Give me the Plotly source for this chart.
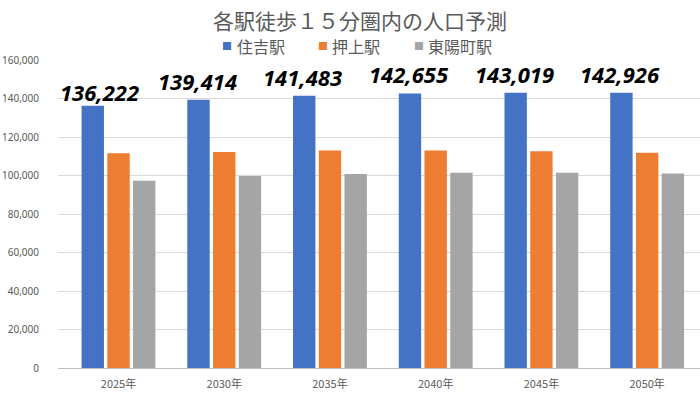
import plotly.graph_objects as go

categories = ["2025年", "2030年", "2035年", "2040年", "2045年", "2050年"]
series_names = ["住吉駅", "押上駅", "東陽町駅"]
sumiyoshi = [136222, 139414, 141483, 142655, 143019, 142926]
oshiage = [111500, 112200, 113050, 113050, 112550, 111800]
toyocho = [97250, 99700, 100750, 101400, 101400, 101100]
y_ticks = [0, 20000, 40000, 60000, 80000, 100000, 120000, 140000, 160000]

colors = ["#4472C4", "#ED7D31", "#A5A5A5"]
title_text = "各駅徒歩１５分圏内の人口予測"

CJK = "Noto Sans CJK JP"
GREY = "#595959"

W, H = 700, 394
ML, MR, MT, MB = 58, 0, 60, 26
PW, PH = W - ML - MR, H - MT - MB


def px_to_paper_x(px):
    return (px - ML) / PW


def px_to_paper_y(py):
    return (H - MB - py) / PH


fig = go.Figure()
for name, vals, col in zip(series_names, [sumiyoshi, oshiage, toyocho], colors):
    fig.add_trace(go.Bar(
        x=categories, y=vals, name=name,
        marker=dict(color=col, line=dict(width=0)),
        showlegend=False,
    ))

# data labels for 住吉駅 (bold italic, above the blue bars)
annotations = []
for i, (cat, v) in enumerate(zip(categories, sumiyoshi)):
    annotations.append(dict(
        x=cat, y=v, xref="x", yref="y",
        text=f"{v:,}", showarrow=False,
        xanchor="center", yanchor="bottom",
        xshift=-19 if i == 0 else -27, yshift=-3 if i == 0 else 2,
        font=dict(family="Noto Sans", size=22, color="#000000",
                  weight="bold", style="italic"),
    ))

# custom legend
legend_sq_x = [227, 323, 419]
legend_tx_x = [235, 330, 426]
legend_y = 45.5
for name, col, sx, tx in zip(series_names, colors, legend_sq_x, legend_tx_x):
    annotations.append(dict(
        x=px_to_paper_x(sx), y=px_to_paper_y(legend_y), xref="paper", yref="paper",
        text="■", showarrow=False, xanchor="center", yanchor="middle",
        font=dict(family=CJK, size=10, color=col),
    ))
    annotations.append(dict(
        x=px_to_paper_x(tx), y=px_to_paper_y(legend_y), xref="paper", yref="paper",
        text=name, showarrow=False, xanchor="left", yanchor="middle",
        font=dict(family=CJK, size=16, color=GREY),
    ))

fig.update_layout(
    width=W, height=H,
    paper_bgcolor="white", plot_bgcolor="white",
    margin=dict(l=ML, r=MR, t=MT, b=MB),
    barmode="group", bargap=0.27, bargroupgap=0.13,
    title=dict(text=title_text, x=360 / W, xref="container", xanchor="center",
               y=1 - 22 / H, yanchor="middle",
               font=dict(family=CJK, size=21, color=GREY)),
    showlegend=False,
    annotations=annotations,
    font=dict(family=CJK, color=GREY),
)
fig.update_xaxes(
    showgrid=False, showline=True, linecolor="#bfbfbf", linewidth=1,
    ticks="", ticklabelstandoff=6, automargin=False,
    tickfont=dict(family=CJK, size=11, color=GREY),
)
fig.update_yaxes(
    range=[0, 160000], tickvals=y_ticks, tickformat=",",
    showgrid=True, gridcolor="#d9d9d9", gridwidth=1, zeroline=False,
    ticks="", ticklabelstandoff=18, automargin=False,
    tickfont=dict(family="Noto Sans", size=10, color=GREY),
)

fig.write_html(
    "out.html",
    config={"displayModeBar": False},
    post_script="document.body.style.margin='0px';document.body.style.overflow='hidden';",
)
